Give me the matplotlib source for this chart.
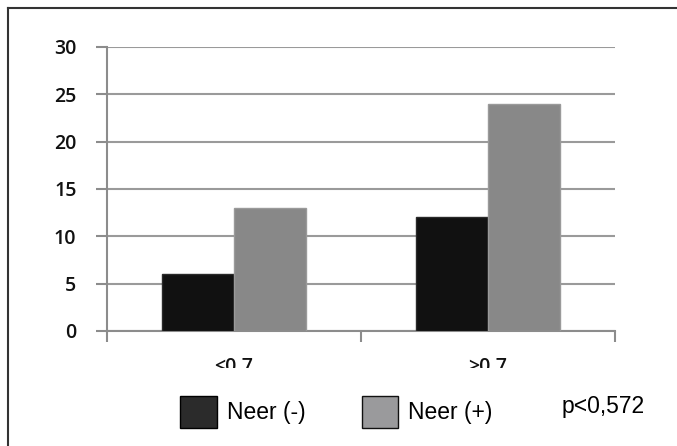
import matplotlib
matplotlib.use("Agg")
import matplotlib.pyplot as plt
from matplotlib.patches import Rectangle
from matplotlib.lines import Line2D
from matplotlib.transforms import Bbox
import numpy as np

categories = ["<0.7", ">0.7"]
neer_neg = [6, 12]
neer_pos = [13, 24]
yticks = [0, 5, 10, 15, 20, 25, 30]

W, H = 677, 446
fig = plt.figure(figsize=(W / 100, H / 100), dpi=100)
fig.patch.set_facecolor("white")

def fx(px):
    return px / W

def fy(py):
    return 1 - py / H

ax = fig.add_axes([fx(107), fy(331), fx(615) - fx(107), fy(47) - fy(331)])

x = np.arange(len(categories))
bw = 0.284
ax.bar(x - bw / 2, neer_neg, bw, color="#111111", edgecolor="#2a2a2a", linewidth=1, zorder=3)
ax.bar(x + bw / 2, neer_pos, bw, color="#888888", edgecolor="#9a9a9a", linewidth=1, zorder=3)

ax.set_xlim(-0.5, 1.5)
ax.set_ylim(0, 30)
ax.set_yticks(yticks)
ax.set_yticklabels([str(v) for v in yticks], fontfamily="Open Sans", fontsize=14,
                   fontweight="semibold", color="#111111")
ax.yaxis.grid(True, color="#9a9a9a", linewidth=1.5, zorder=0)
ax.set_axisbelow(True)

for s in ["top", "right"]:
    ax.spines[s].set_visible(False)
for s in ["left", "bottom"]:
    ax.spines[s].set_color("#8c8c8c")
    ax.spines[s].set_linewidth(1.5)

ax.tick_params(axis="y", length=8, width=1.5, color="#8c8c8c", pad=14)
ax.set_xticks([-0.5, 0.5, 1.5])
ax.set_xticklabels([])
ax.tick_params(axis="x", length=8, width=1.5, color="#8c8c8c")

# category labels, cut off at the bottom as in the original
clip = Bbox.from_extents(0, H - 368, W, H)
for xi, lab in zip(x, categories):
    t = ax.text(xi, -2.75, lab, ha="center", va="top", fontfamily="Open Sans", fontsize=14,
                fontweight="semibold", color="#111111", clip_on=True)
    t.set_clip_box(clip)

# legend
fig.patches.append(Rectangle((fx(180), fy(428)), fx(37), fy(396) - fy(428),
                             transform=fig.transFigure, facecolor="#2b2b2b",
                             edgecolor="#000000", linewidth=1))
fig.patches.append(Rectangle((fx(362), fy(428)), fx(36), fy(396) - fy(428),
                             transform=fig.transFigure, facecolor="#9a9a9c",
                             edgecolor="#111111", linewidth=1))
fig.text(fx(227), fy(413), "Neer (-)", fontfamily="Liberation Sans", fontsize=16.5,
         va="center", ha="left", color="#000000")
fig.text(fx(408), fy(413), "Neer (+)", fontfamily="Liberation Sans", fontsize=16.5,
         va="center", ha="left", color="#000000")
fig.text(fx(562), fy(407), "p<0,572", fontfamily="Liberation Sans", fontsize=16.5,
         va="center", ha="left", color="#000000")

# outer frame (right and bottom fall outside the picture)
fig.lines.append(Line2D([fx(8), fx(8)], [fy(8), fy(460)], transform=fig.transFigure,
                        color="#333333", linewidth=1.5))
fig.lines.append(Line2D([fx(8), fx(700)], [fy(8), fy(8)], transform=fig.transFigure,
                        color="#333333", linewidth=1.5))

fig.savefig("out.png", dpi=100)
